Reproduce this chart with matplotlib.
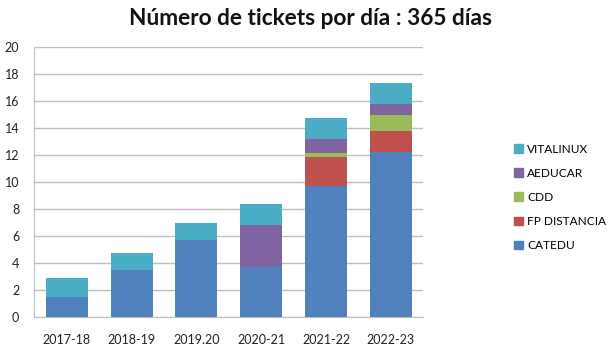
import matplotlib.pyplot as plt
from matplotlib.patches import Patch
import numpy as np

plt.rcParams['font.family'] = ['Lato', 'DejaVu Sans']

years = ['2017-18', '2018-19', '2019.20', '2020-21', '2021-22', '2022-23']
series_names = ['CATEDU', 'FP DISTANCIA', 'CDD', 'AEDUCAR', 'VITALINUX']
catedu = [1.48, 3.5, 5.71, 3.72, 9.73, 12.24]
fp_distancia = [0, 0, 0, 0, 2.12, 1.53]
cdd = [0, 0, 0, 0, 0.27, 1.18]
aeducar = [0, 0, 0, 3.1, 1.04, 0.82]
vitalinux = [1.4, 1.28, 1.24, 1.55, 1.55, 1.54]
colors = ['#4F81BD', '#C0504D', '#9BBB59', '#8064A2', '#4BACC6']

fig = plt.figure(figsize=(6.08, 3.59), dpi=100)
ax = fig.add_axes([0.0567, 0.116, 0.6393, 0.754])

x = np.arange(len(years))
bottom = np.zeros(len(years))
for name, vals, col in zip(series_names, [catedu, fp_distancia, cdd, aeducar, vitalinux], colors):
    ax.bar(x, vals, width=0.65, bottom=bottom, color=col, label=name, zorder=3)
    bottom += np.array(vals)

ax.set_xlim(-0.5, len(years) - 0.5)
ax.set_ylim(0, 20)
ax.set_yticks(range(0, 21, 2))
ax.set_xticks(x)
ax.set_xticklabels(years)
ax.tick_params(axis='both', length=0, labelsize=9, colors='#222222')
ax.tick_params(axis='x', pad=12)
ax.tick_params(axis='y', pad=11)
ax.yaxis.grid(True, color='#bfbfbf', linewidth=1, zorder=0)
for side in ['top', 'right']:
    ax.spines[side].set_visible(False)
for side in ['left', 'bottom']:
    ax.spines[side].set_color('#bfbfbf')

handles = [Patch(color=c, label=n) for n, c in zip(series_names, colors)][::-1]
fig.legend(handles=handles, loc='center left', bbox_to_anchor=(0.846, 0.45),
           frameon=False, fontsize=8.6, handlelength=0.75, handleheight=0.75,
           handletextpad=0.3, labelspacing=1.1, borderpad=0, borderaxespad=0)

fig.text(0.51, 0.948, 'Número de tickets por día : 365 días', ha='center', va='center',
         fontsize=16.3, fontweight='bold', color='#111111')

fig.savefig('out.png', dpi=100)
